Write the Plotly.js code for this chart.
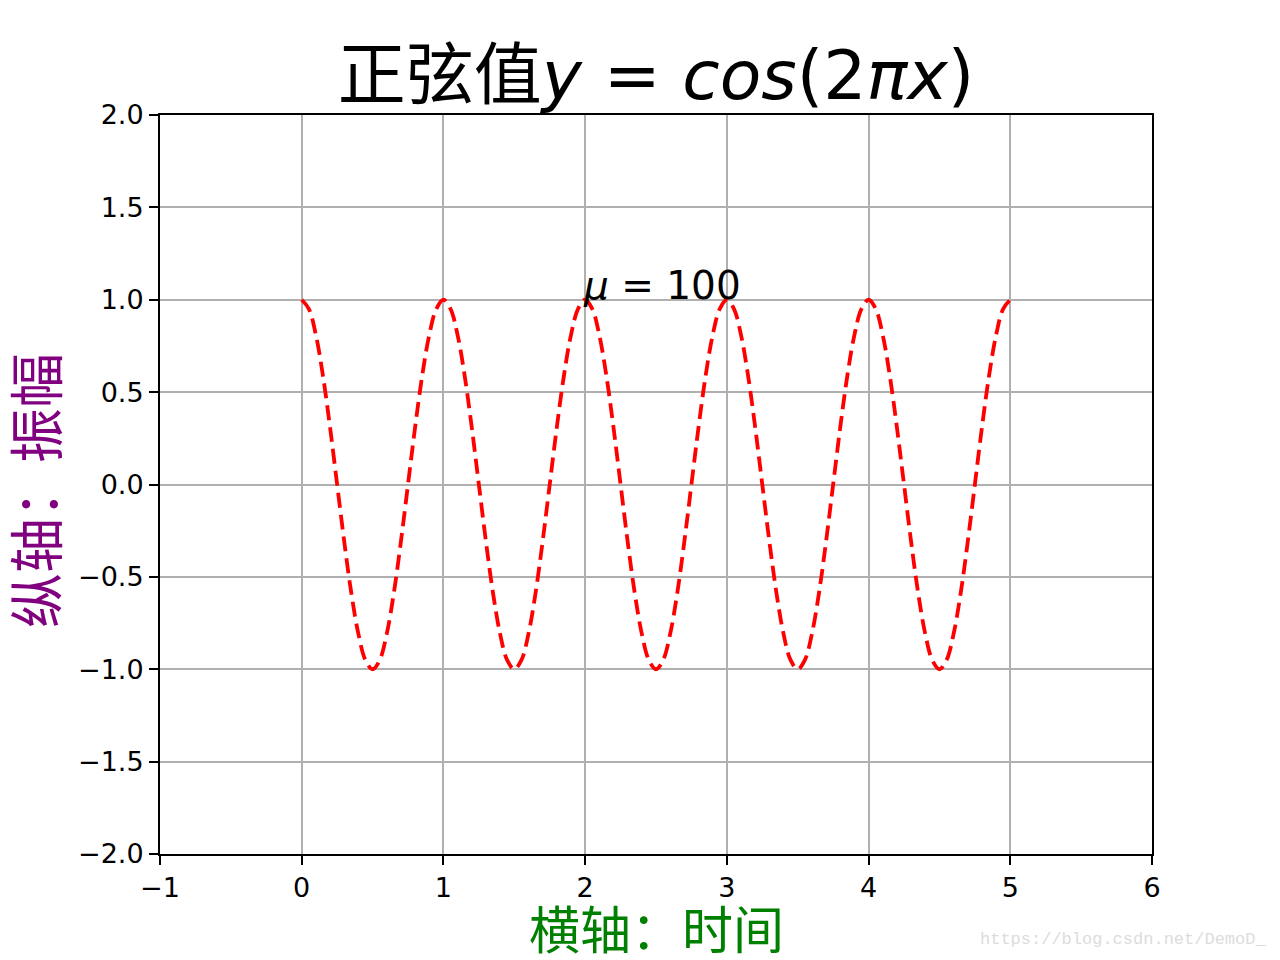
<!DOCTYPE html>
<html>
<head>
<meta charset="utf-8">
<script src="https://cdn.plot.ly/plotly-3.0.1.min.js"></script>
<style>html,body{margin:0;padding:0;background:#fff;}</style>
</head>
<body>
<div id="chart" style="width:1280px;height:960px;"></div>
<script>
const xValues = [0,0.05,0.1,0.15,0.2,0.25,0.3,0.35,0.4,0.45,0.5,0.55,0.6,0.65,0.7,0.75,0.8,0.85,0.9,0.95,
1,1.05,1.1,1.15,1.2,1.25,1.3,1.35,1.4,1.45,1.5,1.55,1.6,1.65,1.7,1.75,1.8,1.85,1.9,1.95,
2,2.05,2.1,2.15,2.2,2.25,2.3,2.35,2.4,2.45,2.5,2.55,2.6,2.65,2.7,2.75,2.8,2.85,2.9,2.95,
3,3.05,3.1,3.15,3.2,3.25,3.3,3.35,3.4,3.45,3.5,3.55,3.6,3.65,3.7,3.75,3.8,3.85,3.9,3.95,
4,4.05,4.1,4.15,4.2,4.25,4.3,4.35,4.4,4.45,4.5,4.55,4.6,4.65,4.7,4.75,4.8,4.85,4.9,4.95,5];
const yValues = [1,0.951,0.809,0.588,0.309,0,-0.309,-0.588,-0.809,-0.951,-1,-0.951,-0.809,-0.588,-0.309,0,0.309,0.588,0.809,0.951,
1,0.951,0.809,0.588,0.309,0,-0.309,-0.588,-0.809,-0.951,-1,-0.951,-0.809,-0.588,-0.309,0,0.309,0.588,0.809,0.951,
1,0.951,0.809,0.588,0.309,0,-0.309,-0.588,-0.809,-0.951,-1,-0.951,-0.809,-0.588,-0.309,0,0.309,0.588,0.809,0.951,
1,0.951,0.809,0.588,0.309,0,-0.309,-0.588,-0.809,-0.951,-1,-0.951,-0.809,-0.588,-0.309,0,0.309,0.588,0.809,0.951,
1,0.951,0.809,0.588,0.309,0,-0.309,-0.588,-0.809,-0.951,-1,-0.951,-0.809,-0.588,-0.309,0,0.309,0.588,0.809,0.951,1];
const titleText = '正弦值<i>y</i> = <i>cos</i>(2<i>πx</i>)';
const xTitle = '横轴：时间';
const yTitle = '纵轴：振幅';
const noteText = '<i>μ</i> = 100';
const noteX = 2, noteY = 1;
const watermark = 'https://blog.csdn.net/DemoD_';

const FONT = 'DejaVu Sans, Noto Sans CJK SC, sans-serif';

const trace = {
  x: xValues, y: yValues, type: 'scatter', mode: 'lines',
  line: {color: '#ff0000', width: 3.8, dash: '15px,7px', shape: 'spline', smoothing: 1},
  hoverinfo: 'skip'
};

const axisCommon = {
  showline: true, linecolor: '#000', linewidth: 2, mirror: true,
  ticks: 'outside', ticklen: 9, tickwidth: 2, tickcolor: '#000',
  showgrid: true, gridcolor: '#b0b0b0', gridwidth: 2,
  zeroline: false, ticklabelstandoff: 0,
  tickfont: {family: FONT, size: 27, color: '#000'}
};

const layout = {
  width: 1280, height: 960,
  margin: {l: 160, r: 128, t: 115, b: 106},
  paper_bgcolor: '#fff', plot_bgcolor: '#fff',
  showlegend: false,
  title: {text: titleText, font: {family: FONT, size: 68, color: '#000'},
          x: 0.5125, xanchor: 'center', yref: 'container', y: 0.922, yanchor: 'middle'},
  xaxis: Object.assign({}, axisCommon, {range: [-1, 6], dtick: 1, tick0: 0}),
  yaxis: Object.assign({}, axisCommon, {range: [-2, 2], dtick: 0.5, tick0: 0, tickformat: '.1f'}),
  annotations: [
    {x: 0.5, y: -0.1055, xref: 'paper', yref: 'paper', text: xTitle, showarrow: false,
     xanchor: 'center', yanchor: 'middle',
     font: {family: FONT, size: 51, color: '#008000'}},
    {x: -0.123, y: 0.4926, xref: 'paper', yref: 'paper', text: yTitle, showarrow: false,
     textangle: -90, xanchor: 'center', yanchor: 'middle',
     font: {family: FONT, size: 55, color: '#800080'}},
    {x: noteX, y: noteY, xref: 'x', yref: 'y', text: noteText, showarrow: false,
     xanchor: 'left', yanchor: 'bottom', xshift: -4, yshift: -10,
     font: {family: FONT, size: 39, color: '#000'}},
    {x: 1.117, y: -0.116, xref: 'paper', yref: 'paper', text: watermark, showarrow: false,
     xanchor: 'right', yanchor: 'middle',
     font: {family: 'Liberation Mono, DejaVu Sans Mono, monospace', size: 17, color: '#dcdcdc'}}
  ]
};

Plotly.newPlot('chart', [trace], layout, {displayModeBar: false, staticPlot: true});
</script>
</body>
</html>
